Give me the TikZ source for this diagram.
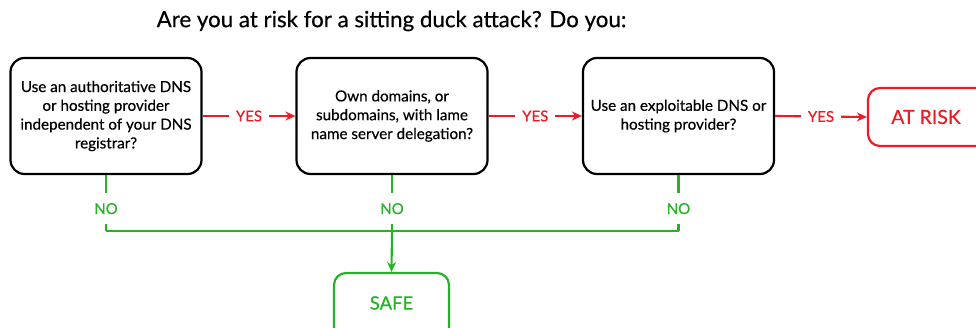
\documentclass[tikz,border=0pt]{standalone}
\usepackage{fontspec}
\setmainfont{Lato}[FakeBold=0.45]
\usetikzlibrary{arrows.meta}
\definecolor{riskred}{RGB}{236,28,36}
\definecolor{safegreen}{RGB}{34,180,34}
\begin{document}
\begin{tikzpicture}[x=1pt,y=-1pt,
  qbox/.style={draw=black,line width=2.2pt,rounded corners=14pt,minimum width=191pt,minimum height=116pt,align=center,font=\fontsize{15.2}{18.8}\selectfont,inner sep=0pt},
  yesline/.style={draw=riskred,line width=2.1pt},
  noline/.style={draw=safegreen,line width=2.1pt},
  yeslbl/.style={fill=white,text=riskred,font=\fontsize{15}{17}\selectfont,inner sep=0pt,minimum width=40pt},
  nolbl/.style={fill=white,text=safegreen,font=\fontsize{15}{17}\selectfont,inner sep=0pt,minimum height=31pt},
  tip/.style={-{Stealth[length=10pt,width=9pt]}}
]
\clip (0,0) rectangle (976,328);
\node[font=\fontsize{22.3}{25}\selectfont] (title) at (391.5,21) {Are you at risk for a sitting duck attack? Do you:};
\node[qbox] (b1) at (106,116) {Use an authoritative DNS\\or hosting provider\\independent of your DNS\\registrar?};
\node[qbox] (b2) at (392,116) {Own domains, or\\subdomains, with lame\\name server delegation?};
\node[qbox] (b3) at (678.5,116) {Use an exploitable DNS or\\hosting provider?};
\node[draw=riskred,line width=2.2pt,rounded corners=12pt,minimum width=130pt,minimum height=58pt,inner sep=0pt] (risk) at (933,117) {};
\node[text=riskred,font=\fontsize{19.5}{22}\selectfont] (risktxt) at (926,117) {AT RISK};
\node[draw=safegreen,line width=2.2pt,rounded corners=12pt,minimum width=115pt,minimum height=70pt,inner sep=0pt] (safe) at (391.5,308) {};
\node[text=safegreen,font=\fontsize{18.5}{20}\selectfont] (safetxt) at (391.5,303) {SAFE};
\draw[yesline,tip] (b1.east) -- node[yeslbl] {YES} (b2.west);
\draw[yesline,tip] (b2.east) -- node[yeslbl] {YES} (b3.west);
\draw[yesline,tip] (b3.east) -- node[yeslbl] {YES} (risk.west);
\coordinate (j1) at (106,231);
\coordinate (j2) at (392,231);
\coordinate (j3) at (678.5,231);
\draw[noline] (b1.south) -- node[nolbl,pos=0.6] {NO} (j1);
\draw[noline] (b2.south) -- node[nolbl,pos=0.6] {NO} (j2);
\draw[noline] (b3.south) -- node[nolbl,pos=0.6] {NO} (j3);
\draw[noline] (j1) -- (j3);
\draw[noline,tip] (j2) -- (safe.north);
\end{tikzpicture}
\end{document}
